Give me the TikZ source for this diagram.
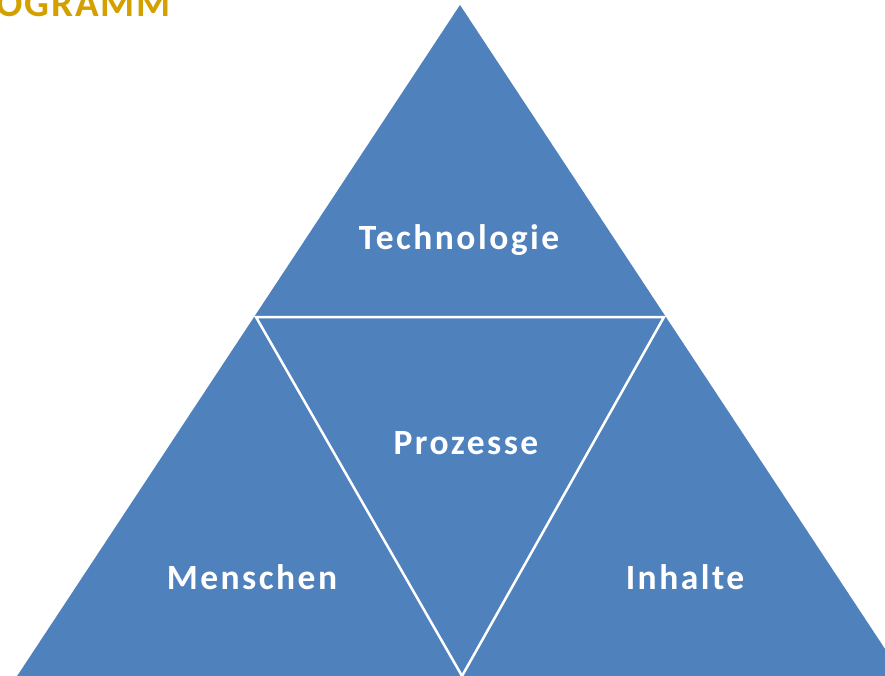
\documentclass[tikz,border=0pt]{standalone}
\usepackage{fontspec}
\setmainfont{Carlito}[BoldFont={Carlito Bold}]
\newfontfamily\lblfont{Carlito Bold}[LetterSpace=7]
\newfontfamily\ttlfont{Carlito Bold}[LetterSpace=5]
\definecolor{pyrblue}{RGB}{79,129,189}
\definecolor{titlegold}{RGB}{212,160,0}
\tikzset{
  seg/.style={fill=pyrblue, draw=none},
  divider/.style={draw=white, line width=2.5pt, line join=miter},
  lbl/.style={text=white, font=\lblfont\fontsize{35.5}{38}\selectfont, anchor=base, inner sep=0pt},
  ttl/.style={text=titlegold, font=\ttlfont\fontsize{39}{42}\selectfont, anchor=base west, inner sep=0pt}
}
\begin{document}
\begin{tikzpicture}[x=1pt,y=-1pt]
\useasboundingbox (0,0) rectangle (885,676);
\clip (0,0) rectangle (885,676);
\fill[white] (0,0) rectangle (885,676);
% outer pyramid
\coordinate (apex) at (460,5);
\coordinate (bl) at (1.3,700);
\coordinate (br) at (918.7,700);
\coordinate (ml) at (256,317);
\coordinate (mr) at (664,317);
\coordinate (mb) at (462,676);
\fill[seg] (apex) -- (br) -- (bl) -- cycle;
\draw[divider] (ml) -- (mr) -- (mb) -- cycle;
% labels
\node[lbl] (tech) at (459,249) {Technologie};
\node[lbl] (proz) at (466,454) {Prozesse};
\node[lbl] (mens) at (252,589) {Menschen};
\node[lbl] (inh) at (685,589) {Inhalte};
\node[ttl] (title) at (-4,17) {OGRAMM};
\end{tikzpicture}
\end{document}
